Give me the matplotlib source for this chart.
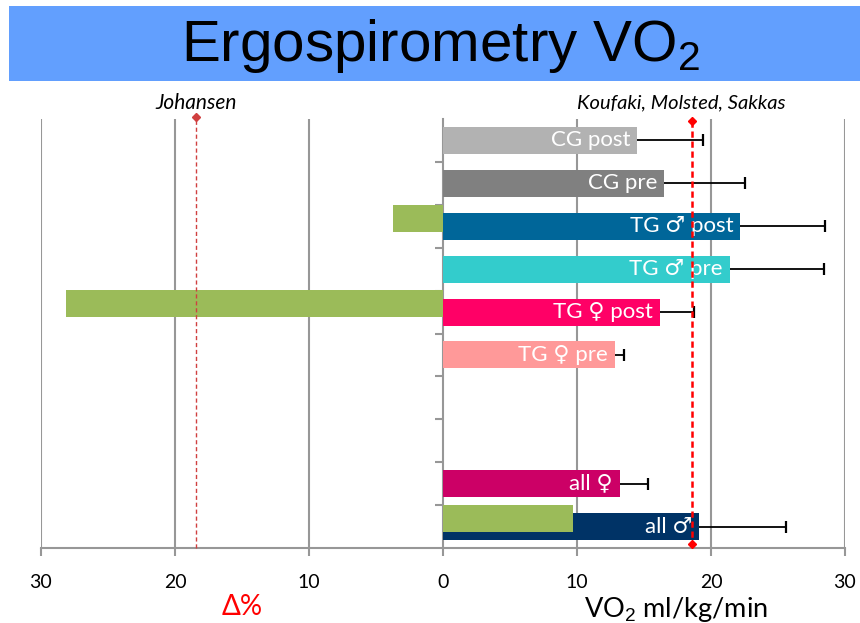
import matplotlib
matplotlib.use("Agg")
import matplotlib.pyplot as plt
from matplotlib.patches import Rectangle

plt.rcParams['font.family'] = ['Lato', 'DejaVu Sans']
plt.rcParams['mathtext.fontset'] = 'custom'
plt.rcParams['mathtext.rm'] = 'Liberation Sans'

# ---- data ----
categories = ["CG post", "CG pre", "TG \u2642 post", "TG \u2642 pre", "TG \u2640 post",
              "TG \u2640 pre", "", "", "all \u2640", "all \u2642"]
vo2 = [14.5, 16.5, 22.2, 21.4, 16.2, 12.8, None, None, 13.2, 19.1]
vo2_err = [4.9, 6.0, 6.3, 7.0, 2.5, 0.7, None, None, 2.1, 6.5]
delta_pct = [None, None, 3.7, None, 28.1, None, None, None, None, -9.7]
bar_colors = ["#b2b2b2", "#808080", "#006699", "#33cccc", "#ff0066",
              "#ff9999", "#ffffff", "#ffffff", "#cc0066", "#003366"]
ref_koufaki = 18.6     # VO2 reference
ref_johansen = 18.4    # Δ% reference
xticks = [-30, -20, -10, 0, 10, 20, 30]
xtick_labels = ["30", "20", "10", "0", "10", "20", "30"]

fig = plt.figure(figsize=(8.6, 6.23), dpi=100)

# title banner
fig.patches.append(Rectangle((9/860, 1-81/623), (860-9)/860, 75/623,
                             transform=fig.transFigure, facecolor="#629ffe",
                             edgecolor="none", zorder=0))
fig.text(441/860, 1-46/623, "Ergospirometry VO$_2$", ha="center", va="center",
         fontsize=42, family="Liberation Sans", color="black")

ax = fig.add_axes([41/860, 1-548/623, (845-41)/860, (548-119)/623])
n = len(categories)
ys = list(range(n))
bh = 0.63
goff = 0.19
grid_c = "#979797"

for i in ys:
    v = vo2[i]
    if v is None:
        continue
    ax.barh(i, v, height=bh, color=bar_colors[i], zorder=3)
    ax.annotate(categories[i], xy=(v, i), xytext=(-5, 0), textcoords="offset points",
                ha="right", va="center", color="white", fontsize=16, zorder=6)
    e = vo2_err[i]
    ax.hlines(i, v, v + e, color="black", lw=1.3, zorder=4)
    ax.plot([v + e], [i], marker="|", ms=8, mew=1.6, color="black", zorder=4)

for i in ys:
    d = delta_pct[i]
    if d is None:
        continue
    ax.barh(i - goff, -d, height=bh, color="#9bbb59", zorder=5)

# reference lines
ax.plot([ref_koufaki, ref_koufaki], [-0.45, 9.4], color="red", ls=(0, (2.5, 1.5)),
        lw=1.8, marker="D", ms=4.5, zorder=7, clip_on=False)
ax.plot([-ref_johansen, -ref_johansen], [9.5, -0.55], color="#d04040", ls=(0, (3, 2)),
        lw=1.0, zorder=7, clip_on=False)
ax.plot([-ref_johansen], [-0.55], marker="D", ms=4, color="#d04040", zorder=7, clip_on=False)

ax.annotate("Johansen", xy=(-ref_johansen, -0.87), ha="center", va="center",
            style="italic", fontsize=15, annotation_clip=False)
ax.annotate("Koufaki, Molsted, Sakkas", xy=(ref_koufaki, -0.87), xytext=(-8, 0),
            textcoords="offset points", ha="center", va="center",
            style="italic", fontsize=14.5, annotation_clip=False)

ax.set_xlim(-30, 30)
ax.set_ylim(n - 0.5, -0.5)

for x in [-30, -20, -10, 10, 20, 30]:
    ax.axvline(x, color=grid_c, lw=1.5, zorder=1)

ax.spines["top"].set_visible(False)
ax.spines["right"].set_visible(False)
ax.spines["left"].set_position(("data", 0))
ax.spines["left"].set_color(grid_c)
ax.spines["left"].set_linewidth(1.5)
ax.spines["left"].set_zorder(2)
ax.spines["bottom"].set_color(grid_c)
ax.spines["bottom"].set_linewidth(1.5)

ax.set_yticks([i + 0.5 for i in range(n - 1)])
ax.set_yticklabels([])
ax.tick_params(axis="y", length=6, width=1.5, color=grid_c, direction="out")
ax.set_xticks(xticks)
ax.set_xticklabels(xtick_labels)
ax.tick_params(axis="x", length=6, width=1.5, color=grid_c, direction="out",
               pad=13, labelsize=14)

fig.text(242/860, 1-607/623, "\u0394%", ha="center", va="center", color="red", fontsize=20)
fig.text(676/860, 1-609/623, "VO$_2$ ml/kg/min", ha="center", va="center",
         color="black", fontsize=19.5)

fig.savefig("out.png", dpi=100)
